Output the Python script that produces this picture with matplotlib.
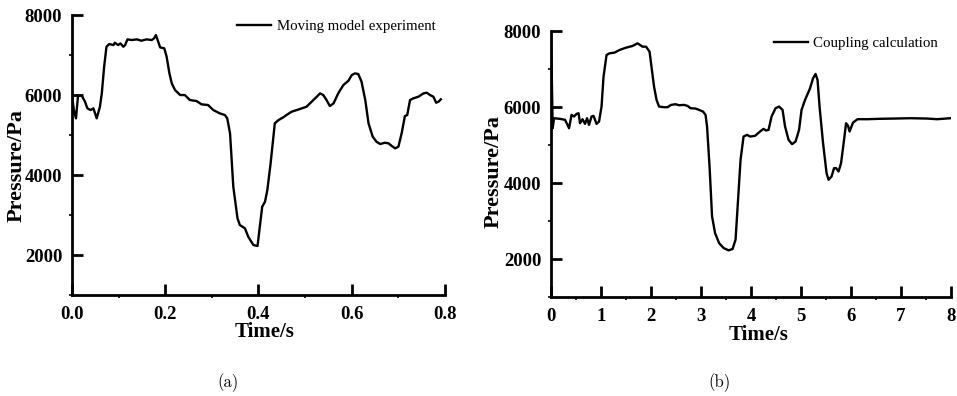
import numpy as np
import matplotlib.pyplot as plt

# (a) moving model experiment
t_exp = [0.0, 0.004, 0.0086, 0.013, 0.021, 0.028, 0.033, 0.040, 0.046, 0.053, 0.060, 0.064,
         0.069, 0.074, 0.080, 0.089, 0.092, 0.099, 0.104, 0.110, 0.114, 0.119, 0.128, 0.139,
         0.149, 0.160, 0.171, 0.176, 0.180, 0.185, 0.189, 0.198, 0.203, 0.209, 0.214, 0.221,
         0.232, 0.242, 0.253, 0.267, 0.278, 0.292, 0.303, 0.317, 0.328, 0.333, 0.339, 0.346,
         0.355, 0.360, 0.371, 0.378, 0.389, 0.398, 0.402, 0.408, 0.414, 0.419, 0.426, 0.435,
         0.443, 0.453, 0.460, 0.471, 0.482, 0.493, 0.503, 0.514, 0.525, 0.532, 0.539, 0.546,
         0.553, 0.561, 0.571, 0.582, 0.593, 0.600, 0.607, 0.614, 0.621, 0.629, 0.636, 0.645,
         0.653, 0.661, 0.671, 0.679, 0.686, 0.693, 0.700, 0.707, 0.714, 0.719, 0.725, 0.732,
         0.743, 0.754, 0.761, 0.768, 0.775, 0.781, 0.786, 0.791]
p_exp = [6000, 5625, 5417, 5983, 5983, 5833, 5667, 5625, 5667, 5417, 5708, 6042,
         6708, 7208, 7275, 7250, 7308, 7250, 7292, 7208, 7250, 7392, 7375, 7392,
         7358, 7392, 7375, 7417, 7500, 7333, 7192, 7167, 6958, 6542, 6292, 6125,
         6000, 6000, 5875, 5850, 5767, 5750, 5625, 5542, 5500, 5417, 5042, 3708,
         2917, 2750, 2667, 2458, 2250, 2225, 2625, 3208, 3333, 3625, 4292, 5292,
         5375, 5442, 5500, 5583, 5625, 5667, 5708, 5833, 5958, 6042, 6000, 5875,
         5725, 5792, 6042, 6250, 6358, 6500, 6542, 6525, 6333, 5875, 5292, 4958,
         4833, 4775, 4808, 4792, 4725, 4667, 4708, 5042, 5475, 5500, 5875, 5917,
         5958, 6042, 6058, 6000, 5958, 5808, 5833, 5892]

# (b) coupling calculation
t_cal = [0.0, 0.033, 0.06, 0.18, 0.28, 0.32, 0.36, 0.41, 0.46, 0.51, 0.55, 0.58, 0.63, 0.68,
         0.72, 0.76, 0.81, 0.85, 0.91, 0.96, 1.01, 1.05, 1.11, 1.17, 1.27, 1.37, 1.50, 1.63,
         1.73, 1.78, 1.83, 1.90, 1.97, 2.00, 2.06, 2.11, 2.16, 2.26, 2.33, 2.40, 2.49, 2.56,
         2.66, 2.73, 2.79, 2.89, 2.96, 3.04, 3.09, 3.12, 3.17, 3.22, 3.28, 3.36, 3.45, 3.55,
         3.63, 3.69, 3.74, 3.79, 3.85, 3.92, 3.98, 4.08, 4.18, 4.25, 4.30, 4.35, 4.41, 4.49,
         4.56, 4.63, 4.68, 4.75, 4.82, 4.89, 4.96, 5.01, 5.08, 5.18, 5.24, 5.29, 5.33, 5.37,
         5.44, 5.51, 5.55, 5.61, 5.66, 5.70, 5.75, 5.80, 5.86, 5.90, 5.94, 5.97, 6.04, 6.13,
         6.33, 6.53, 6.86, 7.19, 7.52, 7.72, 7.99]
p_cal = [7939, 5442, 5705, 5688, 5661, 5556, 5442, 5793, 5749, 5819, 5837, 5574, 5679, 5556,
         5705, 5530, 5749, 5767, 5556, 5618, 6012, 6800, 7369, 7413, 7431, 7501, 7562, 7606,
         7676, 7632, 7588, 7588, 7457, 7150, 6537, 6187, 6012, 5994, 5994, 6055, 6073, 6047,
         6055, 6029, 5968, 5959, 5924, 5880, 5793, 5486, 4435, 3121, 2683, 2420, 2289, 2228,
         2263, 2508, 3559, 4610, 5223, 5267, 5223, 5241, 5355, 5425, 5381, 5399, 5749, 5968,
         6012, 5924, 5486, 5136, 5022, 5092, 5399, 5924, 6187, 6493, 6756, 6870, 6712, 6012,
         5048, 4260, 4085, 4172, 4391, 4391, 4304, 4523, 5136, 5574, 5504, 5355, 5591, 5679,
         5679, 5688, 5696, 5705, 5696, 5679, 5705]

plt.rcParams['font.family'] = 'Liberation Serif'
plt.rcParams['font.weight'] = 'bold'

fig = plt.figure(figsize=(9.57, 3.96), dpi=100)
ax1 = fig.add_axes([0.0752, 0.255, 0.3898, 0.707])
ax2 = fig.add_axes([0.5758, 0.25, 0.418, 0.6717])


def style(ax, xticks, xlabels, minor_x, xl_pos, yl_pos):
    for s in ['top', 'right']:
        ax.spines[s].set_visible(False)
    for s in ['left', 'bottom']:
        ax.spines[s].set_linewidth(2)
    ax.set_ylim(1000, 8000)
    ax.set_yticks([2000, 4000, 6000, 8000])
    ax.set_yticks([1000, 3000, 5000, 7000], minor=True)
    ax.set_xticks(xticks)
    ax.set_xticklabels(xlabels)
    ax.set_xticks(minor_x, minor=True)
    ax.tick_params(which='major', direction='in', length=8, width=2, labelsize=13.5)
    ax.tick_params(axis='x', which='major', pad=8)
    ax.tick_params(axis='y', which='major', pad=7)
    ax.tick_params(which='minor', direction='out', length=2, width=1.2)
    ax.set_xlabel('Time/s', fontsize=15, fontweight='bold')
    ax.set_ylabel('Pressure/Pa', fontsize=16, fontweight='bold')
    ax.xaxis.set_label_coords(*xl_pos)
    ax.yaxis.set_label_coords(*yl_pos)


ax1.plot(t_exp, p_exp, color='black', lw=1.7, label='Moving model experiment')
ax1.set_xlim(0, 0.8)
style(ax1, [0.0, 0.2, 0.4, 0.6, 0.8], ['0.0', '0.2', '0.4', '0.6', '0.8'],
      [0.1, 0.3, 0.5, 0.7], (0.517, -0.096), (-0.121, 0.464))
ax1.legend(loc='upper right', bbox_to_anchor=(1.01, 1.03), frameon=False,
           prop={'family': 'Liberation Serif', 'weight': 'normal', 'size': 10.7},
           handlelength=2.3, handletextpad=0.35)

ax2.plot(t_cal, p_cal, color='black', lw=1.7, label='Coupling calculation')
ax2.set_xlim(0, 8)
style(ax2, list(range(9)), [str(i) for i in range(9)],
      [0.5 + i for i in range(8)], (0.519, -0.105), (-0.119, 0.47))
ax2.legend(loc='upper right', bbox_to_anchor=(1.0, 1.03), frameon=False,
           prop={'family': 'Liberation Serif', 'weight': 'normal', 'size': 10.7},
           handlelength=2.3, handletextpad=0.35)

fig.text(0.238, 0.033, '(a)', ha='center', va='center', family='cmr10',
         fontweight='normal', fontsize=12)
fig.text(0.752, 0.033, '(b)', ha='center', va='center', family='cmr10',
         fontweight='normal', fontsize=12)

fig.savefig('out.png', dpi=100)
